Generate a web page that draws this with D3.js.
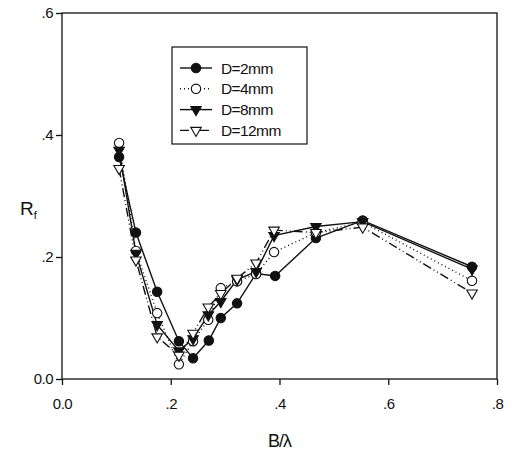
<!DOCTYPE html>
<html>
<head>
<meta charset="utf-8">
<script src="https://cdn.jsdelivr.net/npm/d3@7"></script>
<style>
  body { margin: 0; background: #fff; }
  text { font-family: "Liberation Sans", Arial, sans-serif; fill: #111; }
</style>
</head>
<body>
<div id="chart"></div>
<script>
// ── Rf vs B/lambda for four D values ───────
const xTicks = [0, 0.2, 0.4, 0.6, 0.8];
const yTicks = [0, 0.2, 0.4, 0.6];

const xD2  = [0.105, 0.136, 0.175, 0.215, 0.241, 0.270, 0.292, 0.322, 0.357, 0.392, 0.467, 0.553, 0.754];
const yD2  = [0.364, 0.240, 0.143, 0.062, 0.034, 0.063, 0.100, 0.124, 0.173, 0.169, 0.231, 0.260, 0.184];
const xD4  = [0.105, 0.136, 0.175, 0.215, 0.241, 0.269, 0.292, 0.322, 0.357, 0.390, 0.467, 0.553, 0.754];
const yD4  = [0.387, 0.210, 0.108, 0.024, 0.062, 0.097, 0.149, 0.160, 0.172, 0.208, 0.240, 0.257, 0.161];
const xD8  = [0.105, 0.136, 0.175, 0.215, 0.241, 0.269, 0.292, 0.322, 0.357, 0.390, 0.467, 0.553, 0.754];
const yD8  = [0.375, 0.206, 0.089, 0.046, 0.066, 0.105, 0.127, 0.163, 0.176, 0.235, 0.250, 0.258, 0.180];
const xD12 = [0.105, 0.136, 0.175, 0.215, 0.241, 0.269, 0.292, 0.322, 0.357, 0.390, 0.467, 0.553, 0.754];
const yD12 = [0.345, 0.195, 0.069, 0.039, 0.075, 0.118, 0.140, 0.165, 0.190, 0.244, 0.240, 0.249, 0.141];

const seriesNames = ["D=2mm", "D=4mm", "D=8mm", "D=12mm"];

const series = [
    { name: seriesNames[0], xs: xD2,  ys: yD2,  marker: "circle",   filled: true,  dash: null },
    { name: seriesNames[1], xs: xD4,  ys: yD4,  marker: "circle",   filled: false, dash: "1,3" },
    { name: seriesNames[2], xs: xD8,  ys: yD8,  marker: "triangle", filled: true,  dash: null },
    { name: seriesNames[3], xs: xD12, ys: yD12, marker: "triangle", filled: false, dash: "9,3,1,3,1,3" }
];

const width = 512, height = 456;
const margin = { top: 13, right: 15, bottom: 77, left: 62 };
const innerW = width - margin.left - margin.right;
const innerH = height - margin.top - margin.bottom;

const svg = d3.select("#chart").append("svg")
    .attr("width", width).attr("height", height);
const g = svg.append("g").attr("transform", `translate(${margin.left},${margin.top})`);

const x = d3.scaleLinear().domain([0, 0.8]).range([0, innerW]);
const y = d3.scaleLinear().domain([0, 0.6]).range([innerH, 0]);

const fmt = v => v === 0 ? "0.0" : d3.format(".1f")(v).replace(/^0/, "");

// frame
g.append("rect").attr("width", innerW).attr("height", innerH)
    .attr("fill", "none").attr("stroke", "#111").attr("stroke-width", 1.3);

const xAxis = g.append("g").attr("transform", `translate(0,${innerH})`)
    .call(d3.axisBottom(x).tickValues(xTicks).tickFormat(fmt).tickSize(6).tickPadding(13));
const yAxis = g.append("g")
    .call(d3.axisLeft(y).tickValues(yTicks).tickFormat(fmt).tickSize(6).tickPadding(3));
[xAxis, yAxis].forEach(a => {
    a.select(".domain").remove();
    a.selectAll("line").attr("stroke", "#111").attr("stroke-width", 1.3);
    a.selectAll("text").style("font-size", "15px").style("font-family", "Liberation Sans, Arial, sans-serif")
        .style("letter-spacing", "-0.5px").attr("fill", "#111");
});

// axis titles
g.append("text").attr("x", innerW / 2).attr("y", innerH + 68)
    .attr("text-anchor", "middle").style("font-size", "18px").style("letter-spacing", "-1px").text("B/λ");
const yl = svg.append("text").attr("x", 20).attr("y", 215).style("font-size", "19px");
yl.append("tspan").text("R");
yl.append("tspan").attr("dy", 4).style("font-size", "11px").text("f");

const tri = d3.symbol().type(d3.symbolTriangle).size(48)();

function drawMarker(sel, s) {
    if (s.marker === "circle") {
        sel.append("circle").attr("r", 4.7)
            .attr("fill", s.filled ? "#111" : "#fff").attr("stroke", "#111").attr("stroke-width", 1.1);
    } else {
        sel.append("path").attr("d", tri).attr("transform", "rotate(180)")
            .attr("fill", s.filled ? "#111" : "#fff").attr("stroke", "#111").attr("stroke-width", 1.1);
    }
}

const line = d3.line().x(d => x(d[0])).y(d => y(d[1]));

series.forEach(s => {
    const pts = s.xs.map((v, i) => [v, s.ys[i]]);
    g.append("path").datum(pts).attr("d", line)
        .attr("fill", "none").attr("stroke", "#111").attr("stroke-width", 1.4)
        .attr("stroke-dasharray", s.dash);
});
series.forEach(s => {
    const pts = s.xs.map((v, i) => [v, s.ys[i]]);
    pts.forEach(p => {
        drawMarker(g.append("g").attr("transform", `translate(${x(p[0])},${y(p[1])})`), s);
    });
});

// Legend
const legend = svg.append("g").attr("transform", "translate(172,47)");
legend.append("rect").attr("width", 135).attr("height", 97)
    .attr("fill", "#fff").attr("stroke", "#111").attr("stroke-width", 1.2);
series.forEach((s, i) => {
    const row = legend.append("g").attr("transform", `translate(0,${21 + i * 20.8})`);
    row.append("line").attr("x1", 8).attr("x2", 40).attr("y1", 0).attr("y2", 0)
        .attr("stroke", "#111").attr("stroke-width", 1.4).attr("stroke-dasharray", s.dash);
    drawMarker(row.append("g").attr("transform", "translate(24,0)"), s);
    row.append("text").attr("x", 49).attr("y", 5.5).style("font-size", "15.5px")
        .style("letter-spacing", "-0.6px").text(s.name);
});
</script>
</body>
</html>
